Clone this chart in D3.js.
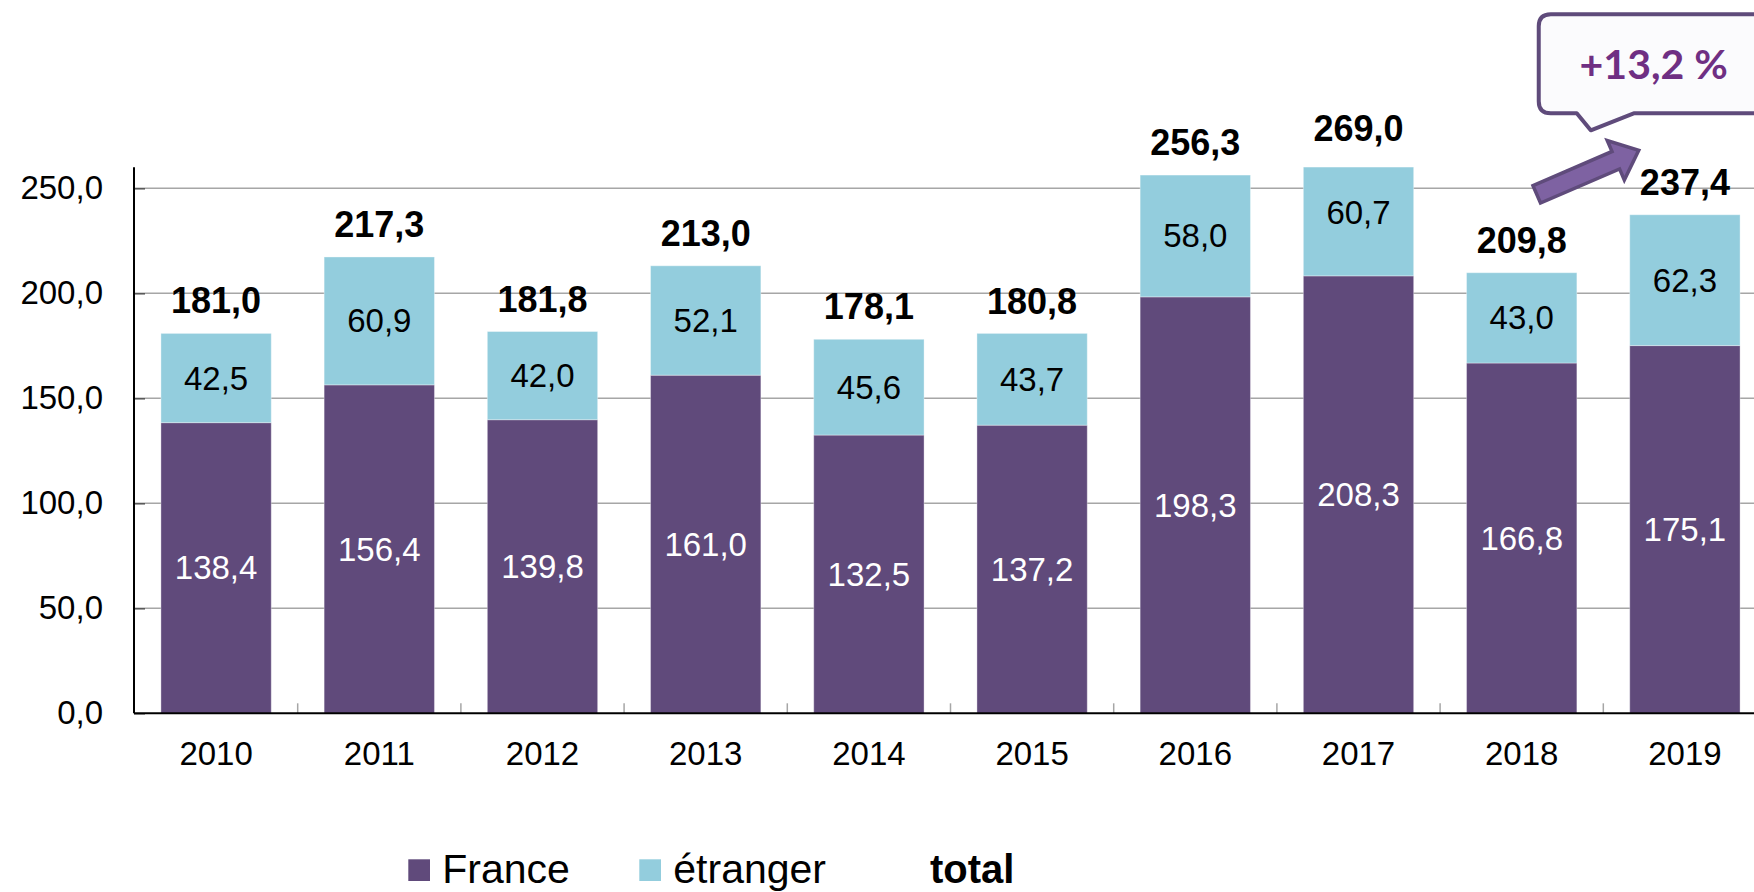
<!DOCTYPE html>
<html>
<head>
<meta charset="utf-8">
<script src="https://cdn.jsdelivr.net/npm/d3@7"></script>
<style>
  body { margin: 0; background: #fff; }
  text { font-family: "Liberation Sans", Arial, sans-serif; }
</style>
</head>
<body>
<div id="chart"></div>
<script>
// data
var years = ["2010", "2011", "2012", "2013", "2014", "2015", "2016", "2017", "2018", "2019"];
var france = [138.4, 156.4, 139.8, 161.0, 132.5, 137.2, 198.3, 208.3, 166.8, 175.1];
var etranger = [42.5, 60.9, 42.0, 52.1, 45.6, 43.7, 58.0, 60.7, 43.0, 62.3];
var totals = [181.0, 217.3, 181.8, 213.0, 178.1, 180.8, 256.3, 269.0, 209.8, 237.4];
var yTicks = [0, 50, 100, 150, 200, 250];
var seriesNames = ["France", "étranger", "total"];
var growthLabel = "+13,2 %";

var colFrance = "#604a7b", colEtranger = "#93cddd";
var width = 1754, height = 892;
var yMax = 260;

var fmt = function (v) { return d3.format(".1f")(v).replace(".", ","); };

var rows = years.map(function (y, i) {
    return { year: y, france: france[i], etranger: etranger[i], total: totals[i] };
});

var svg = d3.select("#chart").append("svg")
    .attr("width", width)
    .attr("height", height);

// scales
var xScale = d3.scaleBand()
    .domain(years)
    .range([134, 1767])
    .paddingInner(0.324)
    .paddingOuter(0.165);

var yScale = d3.scaleLinear()
    .domain([0, yMax])
    .range([713.3, 167.3]);

var y0 = yScale(0);

// gridlines
svg.append("g")
    .selectAll("line")
    .data(yTicks.filter(function (d) { return d > 0; }))
    .enter().append("line")
    .attr("x1", 134).attr("x2", width)
    .attr("y1", function (d) { return yScale(d); })
    .attr("y2", function (d) { return yScale(d); })
    .attr("stroke", "#a6a6a6")
    .attr("stroke-width", 1.5);

// clip bars at the top of the value axis
svg.append("clipPath").attr("id", "plotclip")
    .append("rect")
    .attr("x", 0).attr("y", yScale(yMax))
    .attr("width", width).attr("height", y0 - yScale(yMax));

var bars = svg.append("g").attr("clip-path", "url(#plotclip)");

// France bars
bars.selectAll(".fr")
    .data(rows)
    .enter().append("rect")
    .attr("class", "fr")
    .attr("x", function (d) { return xScale(d.year); })
    .attr("y", function (d) { return yScale(d.france); })
    .attr("width", xScale.bandwidth())
    .attr("height", function (d) { return y0 - yScale(d.france); })
    .attr("fill", colFrance)
    .attr("stroke", "rgba(255,255,255,0.35)")
    .attr("stroke-width", 1);

// étranger bars
bars.selectAll(".et")
    .data(rows)
    .enter().append("rect")
    .attr("class", "et")
    .attr("x", function (d) { return xScale(d.year); })
    .attr("y", function (d) { return yScale(d.france + d.etranger); })
    .attr("width", xScale.bandwidth())
    .attr("height", function (d) { return yScale(d.france) - yScale(d.france + d.etranger); })
    .attr("fill", colEtranger)
    .attr("stroke", "rgba(255,255,255,0.35)")
    .attr("stroke-width", 1);

// segment labels
svg.append("g").selectAll("text")
    .data(rows)
    .enter().append("text")
    .attr("x", function (d) { return xScale(d.year) + xScale.bandwidth() / 2; })
    .attr("y", function (d) { return yScale(d.france / 2); })
    .attr("text-anchor", "middle")
    .attr("dominant-baseline", "central")
    .attr("font-size", 33)
    .attr("fill", "#fff")
    .text(function (d) { return fmt(d.france); });

svg.append("g").selectAll("text")
    .data(rows)
    .enter().append("text")
    .attr("x", function (d) { return xScale(d.year) + xScale.bandwidth() / 2; })
    .attr("y", function (d) { return yScale(d.france + d.etranger / 2); })
    .attr("text-anchor", "middle")
    .attr("dominant-baseline", "central")
    .attr("font-size", 33)
    .attr("fill", "#000")
    .text(function (d) { return fmt(d.etranger); });

// total labels
svg.append("g").selectAll("text")
    .data(rows)
    .enter().append("text")
    .attr("x", function (d) { return xScale(d.year) + xScale.bandwidth() / 2; })
    .attr("y", function (d) { return yScale(Math.min(d.total, yMax + 3)) - 20; })
    .attr("text-anchor", "middle")
    .attr("font-size", 36)
    .attr("font-weight", "bold")
    .attr("fill", "#000")
    .text(function (d) { return fmt(d.total); });

// y axis
var yAxis = svg.append("g")
    .attr("transform", "translate(134,0)")
    .call(d3.axisLeft(yScale).tickValues(yTicks).tickFormat(fmt).tickSize(-11).tickPadding(31));
yAxis.select(".domain").remove();
yAxis.selectAll(".tick line").attr("stroke", "#555").attr("stroke-width", 1.5);
yAxis.selectAll(".tick text").attr("font-size", 33).attr("fill", "#000")
    .style("font-family", "'Liberation Sans', Arial, sans-serif");

svg.append("line")
    .attr("x1", 134).attr("x2", 134)
    .attr("y1", yScale(yMax)).attr("y2", y0)
    .attr("stroke", "#000").attr("stroke-width", 2);

// x axis
var xAxis = svg.append("g")
    .attr("transform", "translate(0," + y0 + ")")
    .call(d3.axisBottom(xScale).tickSize(0).tickPadding(28));
xAxis.select(".domain").remove();
xAxis.selectAll(".tick text").attr("font-size", 33).attr("fill", "#000")
    .style("font-family", "'Liberation Sans', Arial, sans-serif");

// category separators
svg.append("g").selectAll("line")
    .data(years.slice(1))
    .enter().append("line")
    .attr("x1", function (d) { return xScale(d) - xScale.step() * xScale.paddingInner() / 2; })
    .attr("x2", function (d) { return xScale(d) - xScale.step() * xScale.paddingInner() / 2; })
    .attr("y1", y0 - 10).attr("y2", y0)
    .attr("stroke", "#a6a6a6").attr("stroke-width", 1.5);

svg.append("line")
    .attr("x1", 134).attr("x2", width)
    .attr("y1", y0).attr("y2", y0)
    .attr("stroke", "#000").attr("stroke-width", 2);

// callout + arrow, anchored on the 2019 bar
var bx = xScale("2019"), y250 = yScale(250);

var callout = svg.append("g");
var cl = bx - 91, ct = y250 - 174, cb = y250 - 75, r = 12;
callout.append("path")
    .attr("d", "M" + (cl + r) + "," + ct + " H" + (width + 50) + " V" + cb +
        " H" + (bx + 4) + " L" + (bx - 39) + "," + (cb + 17) + " L" + (bx - 53) + "," + cb +
        " H" + (cl + r) + " Q" + cl + "," + cb + " " + cl + "," + (cb - r) +
        " V" + (ct + r) + " Q" + cl + "," + ct + " " + (cl + r) + "," + ct + " Z")
    .attr("fill", "#fbfbfd")
    .attr("stroke", "#5f4b7b")
    .attr("stroke-width", 4)
    .attr("stroke-linejoin", "round");
callout.append("text")
    .attr("x", bx + 24)
    .attr("y", ct + 65)
    .attr("text-anchor", "middle")
    .attr("font-size", 41)
    .attr("font-weight", "bold")
    .attr("fill", "#6f2f83")
    .style("font-family", "Lato, 'Open Sans', sans-serif")
    .text(growthLabel);

var tailX = bx - 93, tailY = y250 + 6, tipX = bx + 9, tipY = y250 - 38;
var L = Math.hypot(tipX - tailX, tipY - tailY);
var ang = Math.atan2(tipY - tailY, tipX - tailX) * 180 / Math.PI;
var sw = 9.5, hl = 25, hw = 21.5;
svg.append("path")
    .attr("transform", "translate(" + tailX + "," + tailY + ") rotate(" + ang + ")")
    .attr("d", "M0," + (-sw) + " L" + (L - hl) + "," + (-sw) + " L" + (L - hl) + "," + (-hw) +
        " L" + L + ",0 L" + (L - hl) + "," + hw + " L" + (L - hl) + "," + sw + " L0," + sw + " Z")
    .attr("fill", "#7e62a2")
    .attr("stroke", "#5f4b7b")
    .attr("stroke-width", 3.5)
    .attr("stroke-linejoin", "miter");

// legend
var legend = svg.append("g");
var legendItems = [
    { name: seriesNames[0], color: colFrance, x: 408.3 },
    { name: seriesNames[1], color: colEtranger, x: 639.3 },
    { name: seriesNames[2], color: null, x: 930 }
];
legendItems.forEach(function (it) {
    if (it.color) {
        legend.append("rect")
            .attr("x", it.x).attr("y", 859.3)
            .attr("width", 21.7).attr("height", 21.7)
            .attr("fill", it.color);
        legend.append("text")
            .attr("x", it.x + 34).attr("y", 883.3)
            .attr("font-size", 41)
            .attr("fill", "#000")
            .text(it.name);
    } else {
        legend.append("text")
            .attr("x", it.x).attr("y", 883.3)
            .attr("font-size", 40)
            .attr("font-weight", "bold")
            .attr("fill", "#000")
            .text(it.name);
    }
});
</script>
</body>
</html>
